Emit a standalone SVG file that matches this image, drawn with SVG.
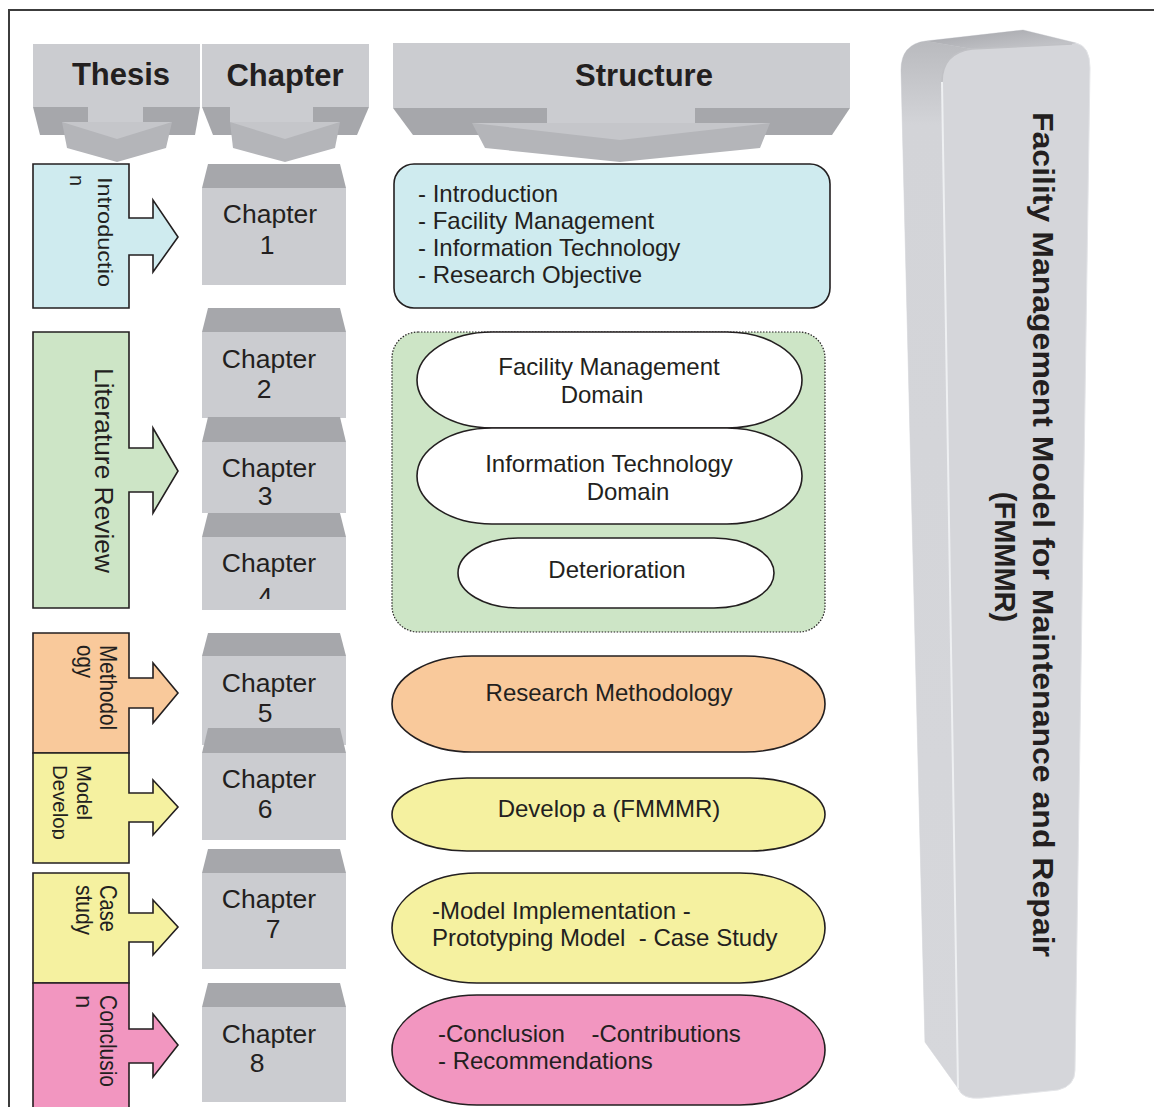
<svg xmlns="http://www.w3.org/2000/svg" width="1154" height="1107" viewBox="0 0 1154 1107">
<defs>
<style>
.t{font-family:"Liberation Sans",Arial,sans-serif;fill:#231f20}
.hdr{font-size:31px;font-weight:bold;text-anchor:middle}
.ch{font-size:26.5px;text-anchor:middle}
.st{font-size:24px}
.stc{font-size:24px;text-anchor:middle}
.face{fill:#cbccd0}
.band{fill:#a6a7ab}
.ahd{fill:#b4b5b9}
.ahl{fill:#c5c6ca}
.sec{stroke:#231f20;stroke-width:1.6}
.pill{stroke:#231f20;stroke-width:1.6}
</style>
<linearGradient id="topg" x1="0" y1="0" x2="1" y2="1">
<stop offset="0" stop-color="#a3a4a9"/>
<stop offset="1" stop-color="#c9cace"/>
</linearGradient>
<linearGradient id="sideg" x1="0" y1="0" x2="0" y2="1">
<stop offset="0" stop-color="#b9babe"/>
<stop offset="0.08" stop-color="#d3d4d8"/>
<stop offset="1" stop-color="#d6d7db"/>
</linearGradient>
<clipPath id="clip4"><rect x="200" y="560" width="150" height="39"/></clipPath>
<clipPath id="clipDev"><rect x="52" y="740" width="80" height="120"/></clipPath>
</defs>
<rect x="0" y="0" width="1154" height="1107" fill="#ffffff"/>
<rect x="9" y="10" width="1170" height="1120" fill="none" stroke="#3c3c3c" stroke-width="2"/>

<g id="header-thesis">
<rect class="face" x="33" y="44" width="167" height="63"/>
<polygon class="band" points="33,107 200,107 195,135 40,135"/>
<rect class="face" x="88" y="106" width="55" height="17"/>
<polygon class="ahd" points="62,122 172,122 166,148 117,162 67,148"/>
<polygon class="ahl" points="62,122 172,122 117,139"/>
<text class="t hdr" x="121" y="85">Thesis</text>
</g>
<g id="header-chapter">
<rect class="face" x="202" y="44" width="167" height="63"/>
<polygon class="band" points="202,107 369,107 357,135 213,135"/>
<rect class="face" x="230" y="106" width="83" height="17"/>
<polygon class="ahd" points="230,122 340,122 335,148 285,162 233,148"/>
<polygon class="ahl" points="230,122 340,122 285,139"/>
<text class="t hdr" x="285" y="86">Chapter</text>
</g>
<g id="header-structure">
<rect class="face" x="393" y="43" width="457" height="65"/>
<polygon class="band" points="393,108 850,108 832,135 413,135"/>
<rect class="face" x="547" y="107" width="148" height="17"/>
<polygon class="ahd" points="472,123 770,123 760,148 620,162 485,148"/>
<polygon class="ahl" points="472,123 770,123 620,140"/>
<text class="t hdr" x="644" y="86">Structure</text>
</g>

<g id="sec-introduction">
<polygon class="sec" fill="#cfebef" points="33,164 129,164 129,218 153,218 153,200 178,237 153,272 153,255 129,255 129,308 33,308"/>
<text class="t" font-size="20" transform="translate(98,177) rotate(90)" textLength="110" lengthAdjust="spacingAndGlyphs">Introductio</text>
<text class="t" font-size="20" transform="translate(70,175) rotate(90)">n</text>
</g>
<g id="sec-literature">
<polygon class="sec" fill="#cde5c6" points="33,332 129,332 129,448 153,448 153,428 178,471 153,513 153,492 129,492 129,608 33,608"/>
<text class="t" font-size="25" transform="translate(95,368) rotate(90)" textLength="205" lengthAdjust="spacingAndGlyphs">Literature Review</text>
</g>
<g id="sec-methodology">
<polygon class="sec" fill="#f9c99b" points="33,633 129,633 129,678 153,678 153,663 178,693 153,723 153,708 129,708 129,753 33,753"/>
<text class="t" font-size="24" transform="translate(100,645) rotate(90)" textLength="85" lengthAdjust="spacingAndGlyphs">Methodol</text>
<text class="t" font-size="24" transform="translate(77,645) rotate(90)" textLength="33" lengthAdjust="spacingAndGlyphs">ogy</text>
</g>
<g id="sec-model">
<polygon class="sec" fill="#f5f1a0" points="33,753 129,753 129,793 153,793 153,780 178,807 153,835 153,822 129,822 129,863 33,863"/>
<text class="t" font-size="21" transform="translate(77,765) rotate(90)" textLength="55" lengthAdjust="spacingAndGlyphs">Model</text>
<g clip-path="url(#clipDev)">
<text class="t" font-size="21" transform="translate(53,765) rotate(90)" textLength="75" lengthAdjust="spacingAndGlyphs">Develop</text>
</g>
</g>
<g id="sec-case">
<polygon class="sec" fill="#f5f1a0" points="33,873 129,873 129,913 153,913 153,900 178,927 153,955 153,942 129,942 129,983 33,983"/>
<text class="t" font-size="24" transform="translate(100,885) rotate(90)" textLength="47" lengthAdjust="spacingAndGlyphs">Case</text>
<text class="t" font-size="24" transform="translate(76,885) rotate(90)" textLength="50" lengthAdjust="spacingAndGlyphs">study</text>
</g>
<g id="sec-conclusion">
<polygon class="sec" fill="#f296c0" points="33,983 129,983 129,1029 153,1029 153,1014 178,1045 153,1077 153,1063 129,1063 129,1112 33,1112"/>
<text class="t" font-size="24" transform="translate(100,995) rotate(90)" textLength="92" lengthAdjust="spacingAndGlyphs">Conclusio</text>
<text class="t" font-size="24" transform="translate(76,995) rotate(90)">n</text>
</g>

<g id="chapter-1">
<polygon class="band" points="208,164 340,164 346,188 202,188"/>
<rect class="face" x="202" y="188" width="144" height="97"/>
<text class="t ch" x="270" y="223">Chapter</text>
<text class="t ch" x="267" y="254">1</text>
</g>
<g id="chapter-2">
<polygon class="band" points="208,308 340,308 346,332 202,332"/>
<rect class="face" x="202" y="332" width="144" height="86"/>
<text class="t ch" x="269" y="368">Chapter</text>
<text class="t ch" x="264" y="398">2</text>
</g>
<g id="chapter-3">
<polygon class="band" points="208,417 340,417 346,442 202,442"/>
<rect class="face" x="202" y="442" width="144" height="71"/>
<text class="t ch" x="269" y="477">Chapter</text>
<text class="t ch" x="265" y="505">3</text>
</g>
<g id="chapter-4">
<polygon class="band" points="208,513 340,513 346,537 202,537"/>
<rect class="face" x="202" y="537" width="144" height="73"/>
<text class="t ch" x="269" y="572">Chapter</text>
<text class="t ch" x="265" y="606" clip-path="url(#clip4)">4</text>
</g>
<g id="chapter-5">
<polygon class="band" points="208,633 340,633 346,656 202,656"/>
<rect class="face" x="202" y="656" width="144" height="89"/>
<text class="t ch" x="269" y="692">Chapter</text>
<text class="t ch" x="265" y="722">5</text>
</g>
<g id="chapter-6">
<polygon class="band" points="208,728 340,728 346,753 202,753"/>
<rect class="face" x="202" y="753" width="144" height="87"/>
<text class="t ch" x="269" y="788">Chapter</text>
<text class="t ch" x="265" y="818">6</text>
</g>
<g id="chapter-7">
<polygon class="band" points="208,849 340,849 346,873 202,873"/>
<rect class="face" x="202" y="873" width="144" height="96"/>
<text class="t ch" x="269" y="908">Chapter</text>
<text class="t ch" x="273" y="938">7</text>
</g>
<g id="chapter-8">
<polygon class="band" points="208,983 340,983 346,1007 202,1007"/>
<rect class="face" x="202" y="1007" width="144" height="95"/>
<text class="t ch" x="269" y="1043">Chapter</text>
<text class="t ch" x="257" y="1072">8</text>
</g>

<g id="structure-intro">
<rect x="394" y="164" width="436" height="144" rx="20" ry="20" fill="#cfebef" stroke="#231f20" stroke-width="1.6"/>
<text class="t st" x="418" y="202">- Introduction</text>
<text class="t st" x="418" y="229">- Facility Management</text>
<text class="t st" x="418" y="256">- Information Technology</text>
<text class="t st" x="418" y="283">- Research Objective</text>
</g>
<g id="structure-literature">
<rect x="392" y="332" width="433" height="300" rx="26" ry="26" fill="#cde5c6" stroke="#231f20" stroke-width="1.2" stroke-dasharray="1.5 1.5"/>
<g id="pill-fm">
<rect class="pill" x="417" y="332" width="385" height="96" rx="75" ry="48" fill="#ffffff"/>
<text class="t stc" x="609" y="375">Facility Management</text>
<text class="t stc" x="602" y="403">Domain</text>
</g>
<g id="pill-it">
<rect class="pill" x="417" y="428" width="385" height="96" rx="75" ry="48" fill="#ffffff"/>
<text class="t stc" x="609" y="472">Information Technology</text>
<text class="t stc" x="628" y="500">Domain</text>
</g>
<g id="pill-det">
<rect class="pill" x="458" y="538" width="316" height="70" rx="60" ry="35" fill="#ffffff"/>
<text class="t stc" x="617" y="578">Deterioration</text>
</g>
</g>
<g id="structure-methodology">
<rect class="pill" x="392" y="656" width="433" height="96" rx="80" ry="48" fill="#f9c99b"/>
<text class="t stc" x="609" y="701">Research Methodology</text>
</g>
<g id="structure-develop">
<rect class="pill" x="392" y="778" width="433" height="73" rx="75" ry="36.5" fill="#f5f1a0"/>
<text class="t stc" x="609" y="817">Develop a (FMMMR)</text>
</g>
<g id="structure-case">
<rect class="pill" x="392" y="873" width="433" height="110" rx="85" ry="55" fill="#f5f1a0"/>
<text class="t st" x="432" y="919">-Model Implementation -</text>
<text class="t st" x="432" y="946" xml:space="preserve">Prototyping Model  - Case Study</text>
</g>
<g id="structure-conclusion">
<rect class="pill" x="392" y="995" width="433" height="110" rx="85" ry="55" fill="#f296c0"/>
<text class="t st" x="438" y="1042" xml:space="preserve">-Conclusion    -Contributions</text>
<text class="t st" x="438" y="1069">- Recommendations</text>
</g>

<g id="pillar">
<path d="M901,70 Q901,44 926,41 L1023,30 L1076,43 Q1090,46 1090,68 L1075,1070 Q1075,1086 1058,1090 L982,1098 Q962,1100 958,1088 L925,1042 Z" fill="#d5d6da" stroke="#e4e5e8" stroke-width="1"/>
<path d="M901,70 Q901,44 926,41 L972,49 Q942,53 942,82 L958,1088 L925,1042 Z" fill="url(#sideg)"/>
<path d="M926,41 L1023,30 L1076,43 L1072,44 L972,49 Z" fill="url(#topg)"/>
<path d="M942,82 Q942,53 972,49 L1072,44" fill="none" stroke="#c0c1c5" stroke-width="1.5"/>
<path d="M942,82 L958,1088" fill="none" stroke="#eef0f2" stroke-width="2"/>
<text class="t" font-size="29" font-weight="bold" transform="translate(1033,112) rotate(90)" textLength="845" lengthAdjust="spacingAndGlyphs">Facility Management Model for Maintenance and Repair</text>
<text class="t" font-size="29" font-weight="bold" text-anchor="middle" transform="translate(995,557) rotate(90)">(FMMMR)</text>
</g>
</svg>
